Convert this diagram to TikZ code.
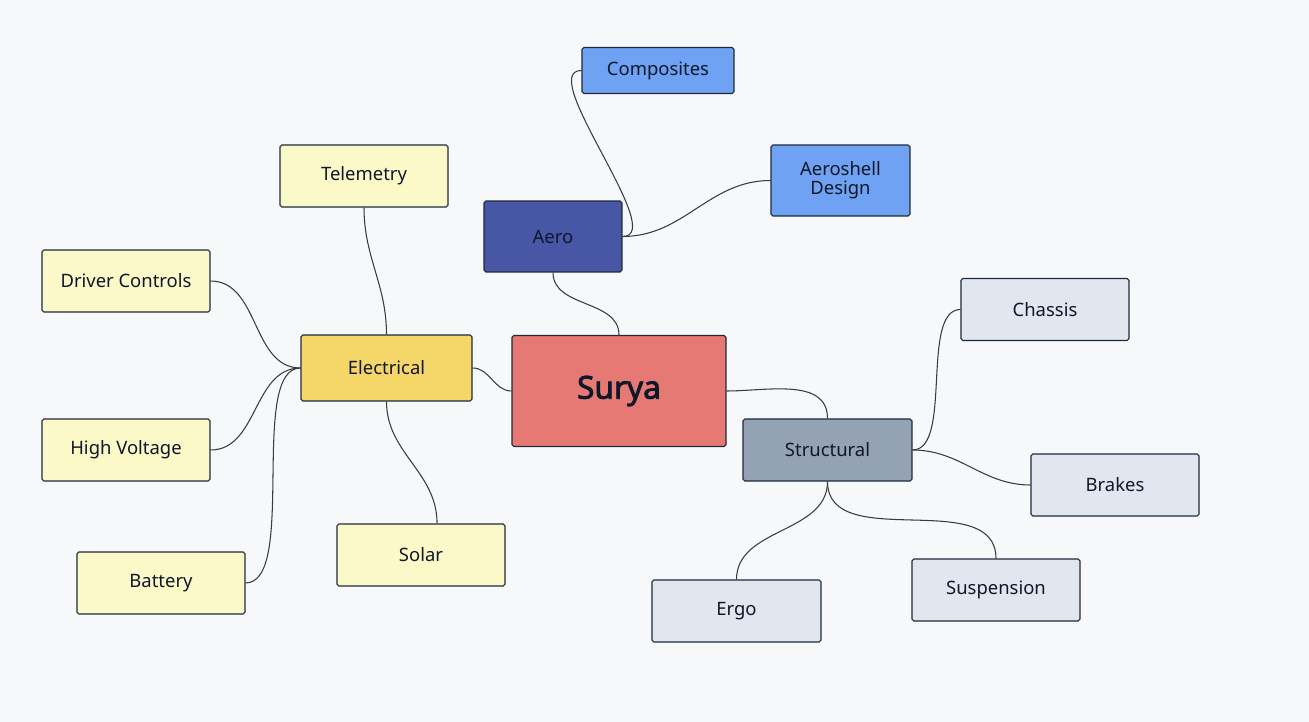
\documentclass[tikz,border=0pt]{standalone}
\usepackage{fontspec}
\setmainfont{Noto Sans}[AutoFakeBold=2.5]

\definecolor{paper}{RGB}{247,248,250}
\definecolor{edge}{RGB}{30,41,59}
\definecolor{ink}{RGB}{15,23,42}
\definecolor{wire}{RGB}{55,58,64}
\definecolor{skyblue}{RGB}{111,162,242}
\definecolor{aeroblue}{RGB}{72,86,166}
\definecolor{paleyellow}{RGB}{252,249,200}
\definecolor{gold}{RGB}{245,214,105}
\definecolor{coral}{RGB}{230,121,115}
\definecolor{slate}{RGB}{148,162,182}
\definecolor{palegray}{RGB}{226,231,239}

\begin{document}
\begin{tikzpicture}[x=0.02cm, y=-0.02cm, font=\fontsize{10.5}{11}\selectfont,
  box/.style={draw=edge, line width=0.6pt, rounded corners=1pt, text=ink, inner sep=0pt, align=center, minimum width=3.36cm, minimum height=1.24cm},
  link/.style={draw=wire, line width=0.6pt}]

\fill[paper] (0,0) rectangle (1309,722);
\useasboundingbox (0,0) rectangle (1309,722);

% aero branch
\node[box, fill=skyblue, minimum width=3.04cm, minimum height=0.92cm] (composites) at (658,70.5) {Composites};
\node[box, fill=skyblue, minimum width=2.78cm, minimum height=1.42cm] (aeroshell) at (840.5,180.5) {Aeroshell\\Design};
\node[box, fill=aeroblue, minimum width=2.76cm, minimum height=1.42cm] (aero) at (553,236.5) {Aero};

% electrical branch
\node[box, fill=paleyellow] (telemetry) at (364,176) {Telemetry};
\node[box, fill=paleyellow] (driver) at (126,281) {Driver Controls};
\node[box, fill=gold, minimum width=3.42cm, minimum height=1.32cm] (electrical) at (386.5,368) {Electrical};
\node[box, fill=paleyellow] (hv) at (126,450) {High Voltage};
\node[box, fill=paleyellow] (battery) at (161,583) {Battery};
\node[box, fill=paleyellow] (solar) at (421,555) {Solar};

% root
\node[box, fill=coral, minimum width=4.28cm, minimum height=2.22cm, font=\fontsize{18}{20}\selectfont\bfseries] (surya) at (619,391) {Surya};

% structural branch
\node[box, fill=palegray] (chassis) at (1045,309.5) {Chassis};
\node[box, fill=slate, minimum width=3.38cm] (structural) at (827.5,450) {Structural};
\node[box, fill=palegray] (brakes) at (1115,485) {Brakes};
\node[box, fill=palegray, minimum width=3.38cm] (ergo) at (736.5,611) {Ergo};
\node[box, fill=palegray] (suspension) at (996,590) {Suspension};

% links
\draw[link] (surya.north) to[out=90, in=-90] (aero.south);
\draw[link] (aero.east) to[out=0, in=180, looseness=0.7] (composites.west);
\draw[link] (aero.east) to[out=0, in=180] (aeroshell.west);

\draw[link] (surya.west) to[out=180, in=0] (electrical.east);
\draw[link] (electrical.north) to[out=90, in=-90] (telemetry.south);
\draw[link] (electrical.west) to[out=180, in=0] (driver.east);
\draw[link] (electrical.west) to[out=180, in=0] (hv.east);
\draw[link] (electrical.west) to[out=180, in=0, looseness=0.6] (battery.east);
\draw[link] (electrical.south) to[out=-90, in=90] (solar.63);

\draw[link] (surya.east) to[out=0, in=90] (structural.north);
\draw[link] (structural.east) to[out=0, in=180, looseness=0.7] (chassis.west);
\draw[link] (structural.east) to[out=0, in=180] (brakes.west);
\draw[link] (structural.south) to[out=-90, in=90] (ergo.north);
\draw[link] (structural.south) to[out=-90, in=90] (suspension.north);

\end{tikzpicture}
\end{document}
